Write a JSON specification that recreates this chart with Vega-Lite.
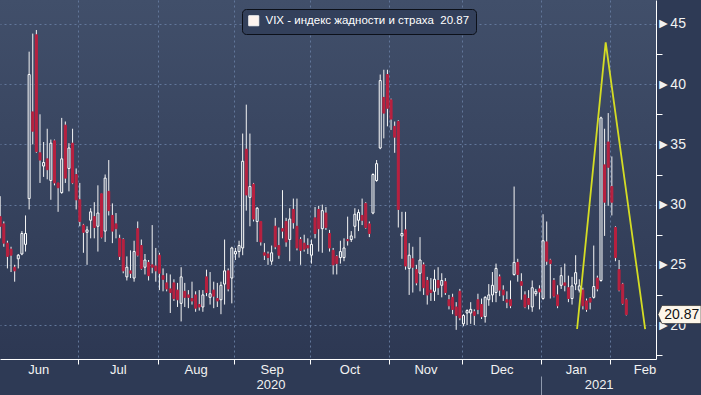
{
"$schema": "https://vega.github.io/schema/vega-lite/v6.json",
"width": 656, "height": 359,
"autosize": {"type": "none"},
"padding": {"left": 0, "top": 0, "right": 45, "bottom": 36},
"background": "#2e3a55",
"config": {"view": {"stroke": null, "fill": {"gradient": "linear", "x1": 0, "y1": 0, "x2": 0, "y2": 1, "stops": [{"offset": 0, "color": "#414f6a"}, {"offset": 1, "color": "#2d3853"}]}}, "font": "Liberation Sans"},
"datasets": {
"tri": [{"t": 159.4, "v": 19.67}, {"t": 167.3, "v": 43.47}, {"t": 178.2, "v": 19.67}],
"vix": [
{"d":"2020-06-01","t":0,"o":29.0,"h":30.7,"l":27.2,"c":28.2},
{"d":"2020-06-02","t":1,"o":28.4,"h":28.6,"l":26.5,"c":26.8},
{"d":"2020-06-03","t":2,"o":26.8,"h":27.0,"l":24.7,"c":25.7},
{"d":"2020-06-04","t":3,"o":26.3,"h":26.5,"l":24.4,"c":25.8},
{"d":"2020-06-05","t":4,"o":24.8,"h":25.0,"l":23.6,"c":24.5},
{"d":"2020-06-08","t":5,"o":25.5,"h":25.9,"l":24.7,"c":25.8},
{"d":"2020-06-09","t":6,"o":25.9,"h":27.8,"l":25.8,"c":27.6},
{"d":"2020-06-10","t":7,"o":26.7,"h":29.1,"l":26.1,"c":27.6},
{"d":"2020-06-11","t":8,"o":30.5,"h":42.7,"l":29.6,"c":40.8},
{"d":"2020-06-12","t":9,"o":37.7,"h":44.2,"l":35.0,"c":36.1},
{"d":"2020-06-15","t":10,"o":44.1,"h":44.5,"l":34.3,"c":34.4},
{"d":"2020-06-16","t":11,"o":34.3,"h":37.5,"l":31.8,"c":33.7},
{"d":"2020-06-17","t":12,"o":33.2,"h":35.2,"l":32.3,"c":33.5},
{"d":"2020-06-18","t":13,"o":33.8,"h":36.3,"l":32.1,"c":32.9},
{"d":"2020-06-19","t":14,"o":32.0,"h":35.4,"l":30.4,"c":35.1},
{"d":"2020-06-22","t":15,"o":35.3,"h":35.4,"l":31.6,"c":31.8},
{"d":"2020-06-23","t":16,"o":31.8,"h":31.8,"l":29.4,"c":31.4},
{"d":"2020-06-24","t":17,"o":31.0,"h":37.2,"l":30.9,"c":33.8},
{"d":"2020-06-25","t":18,"o":36.6,"h":36.9,"l":31.8,"c":32.2},
{"d":"2020-06-26","t":19,"o":33.0,"h":35.1,"l":31.1,"c":34.7},
{"d":"2020-06-29","t":20,"o":35.1,"h":36.3,"l":31.7,"c":31.8},
{"d":"2020-06-30","t":21,"o":32.5,"h":33.0,"l":29.6,"c":30.4},
{"d":"2020-07-01","t":22,"o":30.4,"h":31.8,"l":28.2,"c":28.6},
{"d":"2020-07-02","t":23,"o":28.3,"h":28.4,"l":26.0,"c":27.7},
{"d":"2020-07-06","t":24,"o":27.7,"h":28.2,"l":25.0,"c":27.9},
{"d":"2020-07-07","t":25,"o":28.7,"h":29.7,"l":27.2,"c":29.4},
{"d":"2020-07-08","t":26,"o":29.0,"h":30.2,"l":27.2,"c":28.1},
{"d":"2020-07-09","t":27,"o":28.2,"h":31.6,"l":26.1,"c":29.3},
{"d":"2020-07-10","t":28,"o":30.9,"h":30.9,"l":27.2,"c":27.3},
{"d":"2020-07-13","t":29,"o":27.8,"h":32.5,"l":26.9,"c":32.2},
{"d":"2020-07-14","t":30,"o":31.1,"h":33.7,"l":29.1,"c":29.5},
{"d":"2020-07-15","t":31,"o":29.1,"h":30.1,"l":26.8,"c":27.8},
{"d":"2020-07-16","t":32,"o":28.4,"h":29.3,"l":27.2,"c":28.0},
{"d":"2020-07-17","t":33,"o":27.2,"h":27.5,"l":25.4,"c":25.7},
{"d":"2020-07-20","t":34,"o":27.1,"h":27.2,"l":24.3,"c":24.5},
{"d":"2020-07-21","t":35,"o":24.0,"h":25.7,"l":23.7,"c":24.8},
{"d":"2020-07-22","t":36,"o":24.5,"h":26.2,"l":23.9,"c":24.3},
{"d":"2020-07-23","t":37,"o":23.9,"h":27.0,"l":23.6,"c":26.1},
{"d":"2020-07-24","t":38,"o":28.0,"h":28.6,"l":25.7,"c":25.8},
{"d":"2020-07-27","t":39,"o":26.6,"h":27.1,"l":24.6,"c":24.7},
{"d":"2020-07-28","t":40,"o":24.8,"h":25.9,"l":24.2,"c":25.4},
{"d":"2020-07-29","t":41,"o":25.2,"h":25.4,"l":23.7,"c":24.1},
{"d":"2020-07-30","t":42,"o":25.0,"h":28.3,"l":24.3,"c":24.8},
{"d":"2020-07-31","t":43,"o":24.9,"h":26.4,"l":23.6,"c":24.5},
{"d":"2020-08-03","t":44,"o":25.8,"h":26.0,"l":22.9,"c":24.3},
{"d":"2020-08-04","t":45,"o":24.1,"h":24.7,"l":22.8,"c":23.8},
{"d":"2020-08-05","t":46,"o":23.5,"h":24.3,"l":22.8,"c":23.0},
{"d":"2020-08-06","t":47,"o":23.0,"h":24.2,"l":21.0,"c":22.7},
{"d":"2020-08-07","t":48,"o":23.5,"h":23.8,"l":22.0,"c":22.2},
{"d":"2020-08-10","t":49,"o":22.9,"h":23.5,"l":21.5,"c":22.1},
{"d":"2020-08-11","t":50,"o":21.8,"h":24.8,"l":20.3,"c":24.0},
{"d":"2020-08-12","t":51,"o":22.8,"h":23.5,"l":21.5,"c":22.3},
{"d":"2020-08-13","t":52,"o":22.5,"h":22.9,"l":21.4,"c":22.3},
{"d":"2020-08-14","t":53,"o":22.2,"h":23.6,"l":21.7,"c":22.0},
{"d":"2020-08-17","t":54,"o":22.5,"h":22.8,"l":21.1,"c":21.4},
{"d":"2020-08-18","t":55,"o":21.7,"h":22.9,"l":21.2,"c":21.5},
{"d":"2020-08-19","t":56,"o":21.5,"h":22.9,"l":21.1,"c":22.5},
{"d":"2020-08-20","t":57,"o":24.0,"h":24.6,"l":22.4,"c":22.7},
{"d":"2020-08-21","t":58,"o":22.3,"h":24.4,"l":21.7,"c":22.6},
{"d":"2020-08-24","t":59,"o":22.9,"h":23.6,"l":21.4,"c":22.4},
{"d":"2020-08-25","t":60,"o":22.2,"h":23.5,"l":21.5,"c":22.0},
{"d":"2020-08-26","t":61,"o":22.1,"h":23.6,"l":20.9,"c":23.3},
{"d":"2020-08-27","t":62,"o":23.4,"h":27.1,"l":21.7,"c":24.5},
{"d":"2020-08-28","t":63,"o":24.5,"h":24.7,"l":22.8,"c":23.0},
{"d":"2020-08-31","t":64,"o":23.9,"h":26.5,"l":21.8,"c":26.4},
{"d":"2020-09-01","t":65,"o":25.9,"h":26.4,"l":25.4,"c":26.1},
{"d":"2020-09-02","t":66,"o":26.1,"h":27.0,"l":25.6,"c":26.6},
{"d":"2020-09-03","t":67,"o":26.4,"h":35.9,"l":25.8,"c":33.6},
{"d":"2020-09-04","t":68,"o":34.6,"h":38.3,"l":29.5,"c":30.8},
{"d":"2020-09-08","t":69,"o":30.6,"h":35.9,"l":28.2,"c":31.5},
{"d":"2020-09-09","t":70,"o":31.7,"h":31.8,"l":28.6,"c":28.8},
{"d":"2020-09-10","t":71,"o":28.6,"h":29.8,"l":26.9,"c":29.7},
{"d":"2020-09-11","t":72,"o":28.6,"h":28.6,"l":26.6,"c":26.9},
{"d":"2020-09-14","t":73,"o":26.0,"h":26.8,"l":25.4,"c":25.8},
{"d":"2020-09-15","t":74,"o":25.9,"h":26.1,"l":25.0,"c":25.6},
{"d":"2020-09-16","t":75,"o":25.3,"h":26.6,"l":25.0,"c":26.0},
{"d":"2020-09-17","t":76,"o":28.2,"h":28.9,"l":26.3,"c":26.5},
{"d":"2020-09-18","t":77,"o":26.6,"h":28.1,"l":25.5,"c":25.8},
{"d":"2020-09-21","t":78,"o":28.0,"h":31.2,"l":27.2,"c":27.8},
{"d":"2020-09-22","t":79,"o":28.6,"h":28.9,"l":26.5,"c":26.9},
{"d":"2020-09-23","t":80,"o":27.1,"h":29.7,"l":25.3,"c":28.8},
{"d":"2020-09-24","t":81,"o":29.6,"h":30.5,"l":28.0,"c":28.5},
{"d":"2020-09-25","t":82,"o":28.2,"h":30.5,"l":26.2,"c":26.4},
{"d":"2020-09-28","t":83,"o":27.1,"h":27.3,"l":25.0,"c":26.2},
{"d":"2020-09-29","t":84,"o":26.8,"h":27.5,"l":26.1,"c":26.3},
{"d":"2020-09-30","t":85,"o":26.6,"h":27.2,"l":25.9,"c":26.4},
{"d":"2020-10-01","t":86,"o":25.8,"h":27.1,"l":25.1,"c":26.7},
{"d":"2020-10-02","t":87,"o":28.9,"h":29.8,"l":27.2,"c":27.6},
{"d":"2020-10-05","t":88,"o":29.6,"h":29.9,"l":26.1,"c":28.0},
{"d":"2020-10-06","t":89,"o":28.0,"h":30.0,"l":26.0,"c":29.5},
{"d":"2020-10-07","t":90,"o":29.3,"h":29.8,"l":27.9,"c":28.1},
{"d":"2020-10-08","t":91,"o":27.6,"h":27.9,"l":26.1,"c":26.4},
{"d":"2020-10-09","t":92,"o":26.2,"h":26.4,"l":24.2,"c":25.0},
{"d":"2020-10-12","t":93,"o":25.7,"h":25.8,"l":24.2,"c":25.1},
{"d":"2020-10-13","t":94,"o":25.6,"h":27.0,"l":25.1,"c":26.1},
{"d":"2020-10-14","t":95,"o":25.6,"h":27.2,"l":25.3,"c":26.4},
{"d":"2020-10-15","t":96,"o":27.1,"h":29.0,"l":26.6,"c":27.0},
{"d":"2020-10-16","t":97,"o":27.1,"h":27.8,"l":26.9,"c":27.4},
{"d":"2020-10-19","t":98,"o":28.2,"h":29.7,"l":27.2,"c":29.2},
{"d":"2020-10-20","t":99,"o":28.7,"h":29.6,"l":27.8,"c":29.35},
{"d":"2020-10-21","t":100,"o":29.1,"h":30.5,"l":28.3,"c":28.7},
{"d":"2020-10-22","t":101,"o":30.1,"h":30.2,"l":28.0,"c":28.1},
{"d":"2020-10-23","t":102,"o":28.4,"h":28.6,"l":27.3,"c":27.6},
{"d":"2020-10-26","t":103,"o":29.3,"h":32.6,"l":29.2,"c":32.5},
{"d":"2020-10-27","t":104,"o":32.0,"h":33.7,"l":31.9,"c":33.4},
{"d":"2020-10-28","t":105,"o":34.7,"h":40.8,"l":34.6,"c":40.3},
{"d":"2020-10-29","t":106,"o":38.9,"h":41.2,"l":35.5,"c":37.6},
{"d":"2020-10-30","t":107,"o":40.8,"h":41.2,"l":36.5,"c":38.0},
{"d":"2020-11-02","t":108,"o":38.7,"h":38.8,"l":36.2,"c":37.1},
{"d":"2020-11-03","t":109,"o":36.5,"h":36.9,"l":34.3,"c":35.6},
{"d":"2020-11-04","t":110,"o":36.9,"h":37.0,"l":28.1,"c":29.6},
{"d":"2020-11-05","t":111,"o":27.4,"h":29.4,"l":25.5,"c":27.6},
{"d":"2020-11-06","t":112,"o":27.9,"h":29.4,"l":24.6,"c":24.9},
{"d":"2020-11-09","t":113,"o":24.7,"h":26.8,"l":22.5,"c":25.8},
{"d":"2020-11-10","t":114,"o":25.5,"h":26.5,"l":22.7,"c":24.8},
{"d":"2020-11-11","t":115,"o":24.6,"h":25.0,"l":23.3,"c":23.5},
{"d":"2020-11-12","t":116,"o":24.3,"h":27.3,"l":22.8,"c":25.4},
{"d":"2020-11-13","t":117,"o":25.0,"h":25.2,"l":22.5,"c":23.1},
{"d":"2020-11-16","t":118,"o":23.7,"h":24.0,"l":21.7,"c":22.5},
{"d":"2020-11-17","t":119,"o":22.9,"h":23.9,"l":22.0,"c":22.7},
{"d":"2020-11-18","t":120,"o":22.8,"h":24.6,"l":22.0,"c":23.8},
{"d":"2020-11-19","t":121,"o":23.7,"h":24.8,"l":22.5,"c":23.1},
{"d":"2020-11-20","t":122,"o":23.3,"h":24.3,"l":22.3,"c":23.7},
{"d":"2020-11-23","t":123,"o":23.6,"h":23.9,"l":22.5,"c":22.7},
{"d":"2020-11-24","t":124,"o":22.1,"h":22.5,"l":21.3,"c":21.6},
{"d":"2020-11-25","t":125,"o":22.3,"h":22.6,"l":20.9,"c":21.3},
{"d":"2020-11-27","t":126,"o":21.5,"h":21.9,"l":19.6,"c":20.8},
{"d":"2020-11-30","t":127,"o":22.8,"h":23.0,"l":20.4,"c":20.6},
{"d":"2020-12-01","t":128,"o":20.1,"h":20.9,"l":19.9,"c":20.8},
{"d":"2020-12-02","t":129,"o":21.0,"h":21.3,"l":20.0,"c":21.2},
{"d":"2020-12-03","t":130,"o":21.0,"h":21.9,"l":20.1,"c":21.3},
{"d":"2020-12-04","t":131,"o":21.1,"h":21.3,"l":20.0,"c":20.8},
{"d":"2020-12-07","t":132,"o":22.1,"h":22.6,"l":20.9,"c":21.3},
{"d":"2020-12-08","t":133,"o":21.7,"h":22.2,"l":20.5,"c":20.7},
{"d":"2020-12-09","t":134,"o":20.7,"h":22.4,"l":20.2,"c":22.3},
{"d":"2020-12-10","t":135,"o":22.1,"h":23.4,"l":21.6,"c":22.5},
{"d":"2020-12-11","t":136,"o":22.5,"h":24.4,"l":21.9,"c":23.3},
{"d":"2020-12-14","t":137,"o":22.7,"h":25.1,"l":21.9,"c":24.7},
{"d":"2020-12-15","t":138,"o":24.0,"h":24.2,"l":22.4,"c":22.9},
{"d":"2020-12-16","t":139,"o":22.9,"h":23.3,"l":22.0,"c":22.5},
{"d":"2020-12-17","t":140,"o":22.1,"h":22.8,"l":21.4,"c":21.9},
{"d":"2020-12-18","t":141,"o":22.1,"h":23.7,"l":21.4,"c":21.6},
{"d":"2020-12-21","t":142,"o":24.2,"h":31.5,"l":24.1,"c":25.2},
{"d":"2020-12-22","t":143,"o":25.2,"h":25.5,"l":23.6,"c":24.2},
{"d":"2020-12-23","t":144,"o":23.6,"h":24.3,"l":22.1,"c":23.3},
{"d":"2020-12-24","t":145,"o":22.5,"h":22.8,"l":21.4,"c":21.5},
{"d":"2020-12-28","t":146,"o":22.2,"h":22.9,"l":21.3,"c":21.7},
{"d":"2020-12-29","t":147,"o":21.5,"h":23.7,"l":21.1,"c":23.1},
{"d":"2020-12-30","t":148,"o":22.6,"h":23.0,"l":22.4,"c":22.8},
{"d":"2020-12-31","t":149,"o":23.0,"h":23.3,"l":21.3,"c":22.75},
{"d":"2021-01-04","t":150,"o":22.2,"h":29.2,"l":22.1,"c":27.0},
{"d":"2021-01-05","t":151,"o":26.9,"h":28.6,"l":25.0,"c":25.3},
{"d":"2021-01-06","t":152,"o":25.4,"h":25.5,"l":22.2,"c":25.1},
{"d":"2021-01-07","t":153,"o":23.7,"h":23.9,"l":22.3,"c":22.4},
{"d":"2021-01-08","t":154,"o":22.5,"h":23.3,"l":21.4,"c":21.6},
{"d":"2021-01-11","t":155,"o":23.3,"h":24.8,"l":23.0,"c":24.1},
{"d":"2021-01-12","t":156,"o":23.5,"h":25.1,"l":22.8,"c":23.3},
{"d":"2021-01-13","t":157,"o":23.1,"h":24.1,"l":21.9,"c":22.2},
{"d":"2021-01-14","t":158,"o":22.2,"h":24.0,"l":21.7,"c":23.25},
{"d":"2021-01-15","t":159,"o":23.4,"h":25.8,"l":22.9,"c":24.35},
{"d":"2021-01-19","t":160,"o":22.9,"h":23.8,"l":22.7,"c":23.25},
{"d":"2021-01-20","t":161,"o":22.9,"h":23.1,"l":21.3,"c":21.6},
{"d":"2021-01-21","t":162,"o":22.0,"h":22.2,"l":21.1,"c":21.3},
{"d":"2021-01-22","t":163,"o":22.2,"h":22.3,"l":21.3,"c":21.9},
{"d":"2021-01-25","t":164,"o":22.3,"h":26.6,"l":22.2,"c":23.2},
{"d":"2021-01-26","t":165,"o":23.9,"h":24.1,"l":22.8,"c":23.0},
{"d":"2021-01-27","t":166,"o":23.7,"h":37.3,"l":23.6,"c":37.2},
{"d":"2021-01-28","t":167,"o":33.3,"h":36.3,"l":27.4,"c":30.2},
{"d":"2021-01-29","t":168,"o":35.2,"h":37.6,"l":29.9,"c":33.1},
{"d":"2021-02-01","t":169,"o":31.5,"h":34.0,"l":29.1,"c":30.2},
{"d":"2021-02-02","t":170,"o":28.1,"h":28.2,"l":25.3,"c":25.6},
{"d":"2021-02-03","t":171,"o":24.6,"h":25.4,"l":22.8,"c":22.9},
{"d":"2021-02-04","t":172,"o":23.4,"h":23.5,"l":21.7,"c":21.8},
{"d":"2021-02-05","t":173,"o":22.1,"h":22.2,"l":20.8,"c":20.87}
]},
"resolve": {"axis": {"x": "independent", "y": "independent"}},
"layer": [
{
"data": {"name": "vix"},
"mark": {"type": "rule", "strokeWidth": 1},
"encoding": {
"x": {"field": "t", "type": "quantitative", "scale": {"domain": [-0.05, 181.2], "nice": false, "zero": false, "padding": 0},
"axis": {"orient": "bottom", "title": null,
"values": [21.5, 43.5, 64.5, 85.5, 107.5, 127.5, 149.5, 168.5],
"labels": false,
"domain": true, "domainColor": "#ffffff", "domainWidth": 1,
"ticks": true, "tickSize": 5, "tickColor": "#ffffff",
"grid": true, "gridColor": "#62779a", "gridDash": [2, 3], "gridWidth": 1}},
"y": {"field": "l", "type": "quantitative", "scale": {"domain": [17.18, 46.99], "nice": false, "zero": false},
"axis": {"orient": "right", "title": null,
"values": [20, 25, 30, 35, 40, 45],
"labelExpr": "'►' + datum.label",
"domain": true, "domainColor": "#ffffff", "domainWidth": 1,
"ticks": false,
"grid": true, "gridColor": "#62779a", "gridDash": [2, 3], "gridWidth": 1,
"labelColor": "#f2f2f2", "labelFontSize": 14, "labelFont": "Liberation Sans", "labelPadding": 0,
"labelAlign": "left", "labelBaseline": "middle",
"labelOverlap": false, "labelBound": false, "labelFlush": false}},
"y2": {"field": "h"},
"stroke": {"datum": "VIX - индекс жадности и страха\u00a0\u00a020.87", "type": "nominal", "scale": {"range": ["#f4f4f4"]},
"legend": {"orient": "none", "legendX": 242, "legendY": 9, "title": null, "padding": 6, "cornerRadius": 4,
"strokeColor": "#0c1019", "fillColor": "#33405b", "symbolType": "square", "symbolSize": 100,
"symbolFillColor": "#fdf3ee", "symbolStrokeColor": "#fdf3ee", "symbolStrokeWidth": 1,
"labelColor": "#ffffff", "labelFontSize": 11.5, "labelFont": "Liberation Sans", "labelLimit": 400, "labelOffset": 6}}
}
},
{
"data": {"name": "vix"},
"mark": {"type": "bar", "size": 2, "strokeWidth": 1},
"encoding": {
"x": {"field": "t", "type": "quantitative", "scale": {"domain": [-0.05, 181.2], "nice": false, "zero": false, "padding": 0},
"axis": {"orient": "bottom", "title": null,
"values": [10.5, 32.5, 54, 75, 96.5, 117.5, 138.5, 159, 178],
"labelExpr": "datum.value == 10.5 ? 'Jun' : datum.value == 32.5 ? 'Jul' : datum.value == 54 ? 'Aug' : datum.value == 75 ? 'Sep' : datum.value == 96.5 ? 'Oct' : datum.value == 117.5 ? 'Nov' : datum.value == 138.5 ? 'Dec' : datum.value == 159 ? 'Jan' : 'Feb'",
"domain": false, "ticks": false, "grid": false,
"labelColor": "#f2f2f2", "labelFontSize": 13, "labelFont": "Liberation Sans", "labelPadding": 4,
"labelOverlap": false, "labelBound": false, "labelFlush": false}},
"y": {"field": "o", "type": "quantitative", "scale": {"domain": [17.18, 46.99], "nice": false, "zero": false},
"axis": {"orient": "right", "title": null,
"values": [17.5, 22.5, 27.5, 32.5, 37.5, 42.5],
"labels": false, "domain": false, "grid": false,
"ticks": true, "tickSize": 6, "tickColor": "#ffffff"}},
"y2": {"field": "c"},
"fill": {"condition": {"test": "datum.c > datum.o", "value": "#34425d"}, "value": "#b8203f"},
"stroke": {"condition": {"test": "datum.c > datum.o", "value": "#ffffff"}, "value": "#b8203f"}
}
},
{
"data": {"name": "tri"},
"mark": {"type": "line", "color": "#d4dc24", "strokeWidth": 1.8},
"encoding": {
"x": {"field": "t", "type": "quantitative", "scale": {"domain": [-0.05, 181.2], "nice": false, "zero": false, "padding": 0},
"axis": {"orient": "bottom", "offset": 17, "title": null, "values": [74.7, 149.5, 165.35],
"labelExpr": "datum.value == 74.7 ? '2020' : datum.value == 165.35 ? '2021' : ''",
"domain": false, "grid": false, "ticks": true, "tickSize": 20, "tickColor": "#8e99ad",
"tickOpacity": {"condition": {"test": "datum.value == 149.5", "value": 1}, "value": 0},
"labelPadding": -18, "labelColor": "#f2f2f2", "labelFontSize": 13, "labelFont": "Liberation Sans",
"labelOverlap": false, "labelBound": false, "labelFlush": false}},
"y": {"field": "v", "type": "quantitative", "scale": {"domain": [17.18, 46.99], "nice": false, "zero": false}, "axis": null}
}
},
{
"data": {"name": "vix"},
"transform": [{"filter": "datum.t == 173"}],
"mark": {"type": "point", "shape": "M-1,0L-0.82,-0.42L1,-0.42L1,0.42L-0.82,0.42Z", "filled": true, "fill": "#fdf6ea", "stroke": "#222222", "strokeWidth": 0.6, "opacity": 1, "size": 1849},
"encoding": {
"x": {"datum": 187.7, "type": "quantitative", "scale": {"domain": [-0.05, 181.2], "nice": false, "zero": false, "padding": 0}, "axis": null},
"y": {"field": "c", "type": "quantitative", "scale": {"domain": [17.18, 46.99], "nice": false, "zero": false}, "axis": null}
}
},
{
"data": {"name": "vix"},
"transform": [{"filter": "datum.t == 173"}],
"mark": {"type": "text", "align": "center", "baseline": "middle", "fontSize": 14, "font": "Liberation Sans", "color": "#111111"},
"encoding": {
"x": {"datum": 188.3, "type": "quantitative", "scale": {"domain": [-0.05, 181.2], "nice": false, "zero": false, "padding": 0}, "axis": null},
"y": {"field": "c", "type": "quantitative", "scale": {"domain": [17.18, 46.99], "nice": false, "zero": false}, "axis": null},
"text": {"field": "c", "type": "quantitative", "format": ".2f"}
}
}
]
}
